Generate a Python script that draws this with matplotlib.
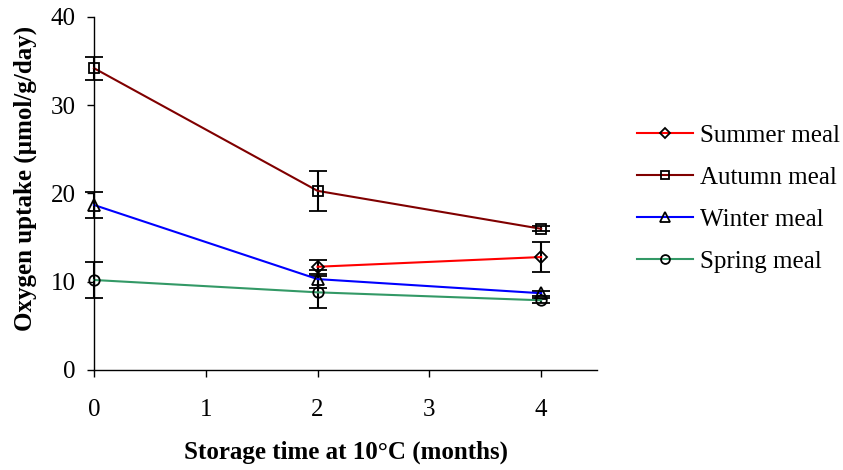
import numpy as np
import matplotlib.pyplot as plt
from matplotlib.lines import Line2D

plt.rcParams['font.family'] = ['Liberation Serif', 'DejaVu Serif']

months = [0, 2, 4]
summer_x = [2, 4]
summer = [11.7, 12.8]
summer_err = [0.8, 1.7]
autumn = [34.2, 20.3, 16.0]
autumn_err = [1.3, 2.3, 0.3]
winter = [18.7, 10.3, 8.7]
winter_err = [1.5, 1.0, 0.3]
spring = [10.2, 8.8, 7.9]
spring_err = [2.0, 1.8, 0.3]

fig = plt.figure(figsize=(8.43, 4.70), dpi=100)
ax = fig.add_axes([94 / 843, 100 / 470, 503 / 843, 353 / 470])

series = [
    ("Summer meal", summer_x, summer, summer_err, "red", "D", 6.5),
    ("Autumn meal", months, autumn, autumn_err, "#800000", "s", 7.5),
    ("Winter meal", months, winter, winter_err, "blue", "^", 8),
    ("Spring meal", months, spring, spring_err, "#339966", "o", 7.5),
]
handles = []
for name, xs, ys, es, col, mk, ms in series:
    cont = ax.errorbar(xs, ys, yerr=es, color=col, lw=1.5, marker=mk, ms=ms,
                       mfc="none", mec="black", mew=1.3, ecolor="black",
                       elinewidth=1.5, capsize=6.5, capthick=1.5)
    for art in cont.get_children():
        art.set_clip_on(False)
    # legend entry without error bars
    handles.append(Line2D([], [], color=col, lw=1.5, marker=mk, ms=ms * 0.85,
                          mfc="none", mec="black", mew=1.3, label=name))

ax.set_xlim(0, 4.5)
ax.set_ylim(0, 40)
ax.set_xticks([0, 1, 2, 3, 4])
ax.set_yticks([0, 10, 20, 30, 40])
ax.spines['top'].set_visible(False)
ax.spines['right'].set_visible(False)
for s in ['left', 'bottom']:
    ax.spines[s].set_linewidth(1.0)
ax.tick_params(direction='out', length=5, width=1.0, labelsize=18)
ax.tick_params(axis='x', pad=16)
ax.tick_params(axis='y', pad=8)
ax.set_xlabel("Storage time at 10°C (months)", fontsize=18, fontweight='bold', labelpad=14)
ax.set_ylabel("Oxygen uptake (µmol/g/day)", fontsize=18, fontweight='bold')
ax.yaxis.set_label_coords(-0.113, 0.544)

fig.legend(handles=handles, loc='center left', bbox_to_anchor=(637 / 843, 1 - 198.5 / 470),
           frameon=False, fontsize=18, handlelength=2.25, labelspacing=0.78,
           handletextpad=0.25, borderpad=0, borderaxespad=0)

fig.savefig("out.png", dpi=100)
